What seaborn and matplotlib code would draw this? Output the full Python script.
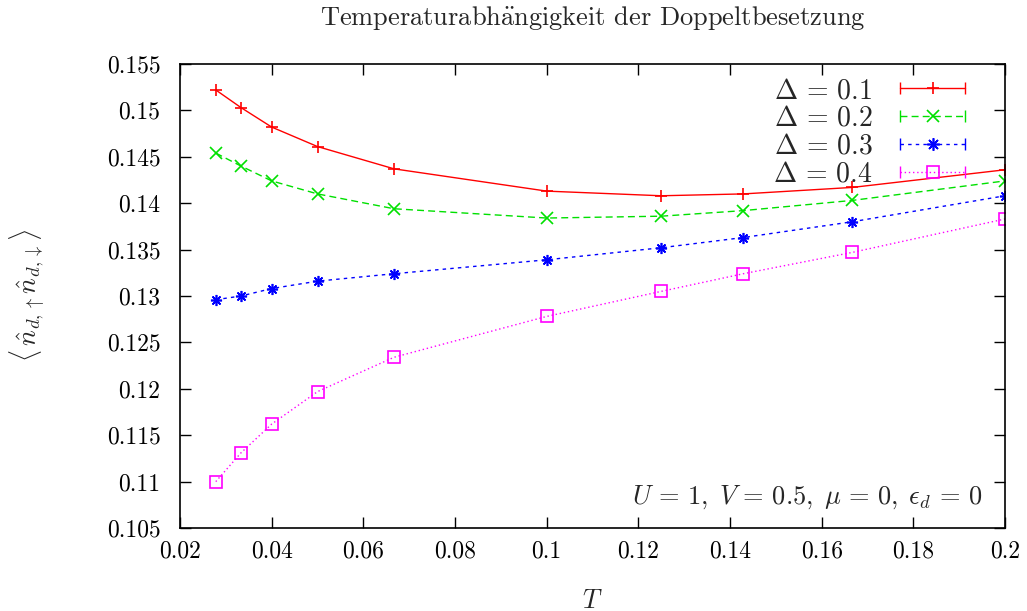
import numpy as np
import pandas as pd
import matplotlib
matplotlib.use("Agg")
import matplotlib.pyplot as plt
import seaborn as sns
from matplotlib.lines import Line2D
from matplotlib.legend_handler import HandlerLine2D, HandlerTuple
from matplotlib.ticker import FuncFormatter

# =========================
# DATA
# =========================
T = [0.0278, 0.0333, 0.04, 0.05, 0.0667, 0.1, 0.125, 0.1429, 0.1667, 0.2]

d01 = [0.1522, 0.1503, 0.1482, 0.1461, 0.1437, 0.1413, 0.1408, 0.1410, 0.1417, 0.1436]
d02 = [0.1454, 0.1440, 0.1424, 0.1410, 0.1394, 0.1384, 0.1386, 0.1392, 0.1403, 0.1424]
d03 = [0.1296, 0.1300, 0.1308, 0.1316, 0.1324, 0.1339, 0.1352, 0.1363, 0.1380, 0.1408]
d04 = [0.1100, 0.1131, 0.1162, 0.1197, 0.1234, 0.1278, 0.1305, 0.1324, 0.1347, 0.1383]

labels = [r"$\Delta\,=\,0.1$", r"$\Delta\,=\,0.2$", r"$\Delta\,=\,0.3$", r"$\Delta\,=\,0.4$"]
series = [d01, d02, d03, d04]

colors = ["#ff0000", "#00e000", "#0000ff", "#ff00ff"]
markers = ["+", "x", (8, 2, 0), "s"]
styles = ["-", (0, (5, 3)), (0, (2.5, 3)), (0, (1, 2))]

# =========================
# STYLE
# =========================
sns.set_theme(style="ticks")
plt.rcParams["font.family"] = ["cmr10", "DejaVu Serif"]
plt.rcParams["mathtext.fontset"] = "cm"
plt.rcParams["axes.formatter.use_mathtext"] = True
plt.rcParams["axes.unicode_minus"] = False

fig = plt.figure(figsize=(10.27, 6.11), dpi=100)
ax = fig.add_axes([0.1753, 0.1358, 0.8033, 0.7595])

handles = []
for vals, lab, c, m, ls in zip(series, labels, colors, markers, styles):
    mfc = "none" if m == "s" else c
    sns.lineplot(x=T, y=vals, ax=ax, color=c, marker=m, linestyle=ls,
                 linewidth=1.0, markersize=8, markerfacecolor=mfc,
                 markeredgecolor=c, markeredgewidth=1.2, legend=False)
    caps = Line2D([], [], color=c, linestyle=ls, linewidth=1.0,
                  marker="|", markersize=9, markeredgewidth=1.0)
    mid = Line2D([], [], color=c, linestyle="none", marker=m, markersize=9,
                 markerfacecolor=mfc, markeredgecolor=c, markeredgewidth=1.2)
    handles.append((caps, mid))

hmap = {}
for caps, mid in handles:
    hmap[caps] = HandlerLine2D(numpoints=2)
    hmap[mid] = HandlerLine2D(numpoints=1)
hmap[tuple] = HandlerTuple(ndivide=1)

leg = ax.legend(handles, labels, handler_map=hmap, loc="upper right",
                bbox_to_anchor=(0.979, 1.0),
                frameon=False, markerfirst=False, fontsize=20,
                handlelength=2.95, labelspacing=0.05, borderaxespad=0.1,
                handletextpad=0.7)

ax.set_xlim(0.02, 0.2)
ax.set_ylim(0.105, 0.155)
ax.set_xticks(np.arange(0.02, 0.2001, 0.02))
ax.set_yticks(np.arange(0.105, 0.1551, 0.005))
ax.xaxis.set_major_formatter(FuncFormatter(lambda v, p: "%g" % round(v, 4)))
ax.yaxis.set_major_formatter(FuncFormatter(lambda v, p: "%g" % round(v, 4)))
ax.tick_params(direction="in", length=8, width=1, top=True, right=True,
               labelsize=17, colors="black")
ax.tick_params(axis="y", pad=14)
ax.tick_params(axis="x", pad=9)
for s in ax.spines.values():
    s.set_linewidth(1.2)
    s.set_color("black")

fig.text(592.5 / 1027, 1 - 18 / 611,
         r"Temperaturabh$\ddot{\mathrm{a}}$ngigkeit der Doppeltbesetzung",
         ha="center", va="center", fontsize=19)
ax.set_xlabel(r"$T$", fontsize=19)
ax.xaxis.set_label_coords(0.5, -0.132)
ax.set_ylabel(r"$\langle\,\hat{n}_{d,\uparrow}\hat{n}_{d,\downarrow}\rangle$",
              fontsize=19)
ax.yaxis.set_label_coords(-0.161, 0.5)
ax.text(0.973, 0.067, r"$U\,=\,1,\; V\,=\,0.5,\; \mu\,=\,0,\; \epsilon_d\,=\,0$",
        transform=ax.transAxes, ha="right", va="center", fontsize=19)

fig.savefig("out.png", dpi=100)
